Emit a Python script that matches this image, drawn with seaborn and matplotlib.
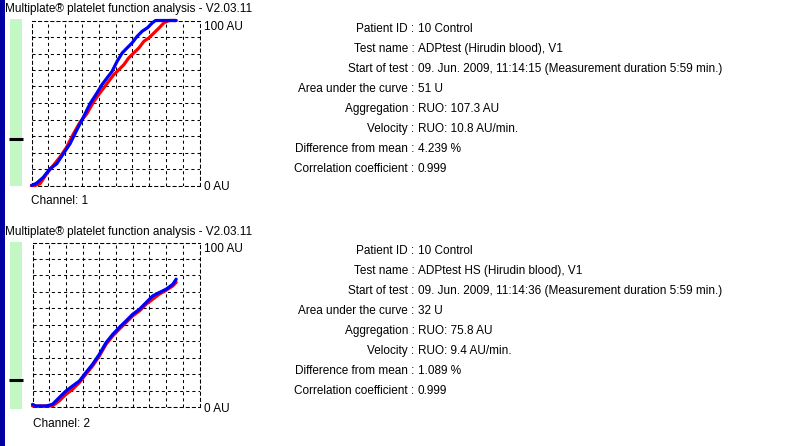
import numpy as np
import pandas as pd
import matplotlib
matplotlib.use("Agg")
import matplotlib.pyplot as plt
from matplotlib.patches import Rectangle
import seaborn as sns

# ---- aggregation curves (time in min, aggregation in AU) ----
ch1_blue_t = [0, 0.21, 0.49, 0.76, 1.04, 1.31, 1.59, 1.86, 2.15, 2.43, 2.70, 2.91,
              3.12, 3.33, 3.54, 3.75, 3.95, 4.16, 4.37, 4.58, 4.79, 5.00, 5.13, 5.98]
ch1_blue_au = [0, 1.4, 5.0, 10.1, 13.1, 19.1, 25.2, 33.2, 41.5, 49.8, 55.9, 61.0,
               65.1, 69.1, 75.2, 80.3, 83.3, 86.4, 90.4, 93.5, 95.5, 98.6, 100, 100]
ch1_red_t = [0, 0.14, 0.35, 0.62, 0.90, 1.17, 1.45, 1.73, 2.00, 2.29, 2.56, 2.77,
             2.98, 3.19, 3.40, 3.61, 3.82, 4.02, 4.23, 4.44, 4.65, 4.86, 5.07, 5.28,
             5.48, 5.69, 5.98]
ch1_red_au = [0, 0, 1, 7, 12.1, 17.1, 23.1, 31.2, 38.2, 43.5, 50.5, 54.9,
              59.0, 63.1, 67.1, 70.1, 73.2, 77.3, 80.3, 83.3, 87.4, 89.5, 92.5, 95.5,
              98.6, 100, 100]

ch2_blue_t = [0, 0.14, 0.56, 0.83, 1.11, 1.39, 1.67, 1.95, 2.22, 2.50, 2.78, 3.06,
              3.34, 3.61, 3.89, 4.17, 4.45, 4.73, 5.00, 5.28, 5.56, 5.84, 5.98]
ch2_blue_au = [1.6, 0.6, 0.6, 1.6, 5.7, 9.7, 12.8, 15.8, 20.9, 26.0, 32.0, 39.1,
               44.2, 48.3, 52.3, 56.4, 59.4, 63.5, 67.5, 69.6, 71.6, 74.6, 77.7]
ch2_red_t = [0, 0.83, 1.11, 1.39, 1.67, 1.95, 2.22, 2.50, 2.78, 3.06, 3.34, 3.61,
             3.89, 4.17, 4.45, 4.73, 5.00, 5.28, 5.56, 5.84, 5.98]
ch2_red_au = [0.6, 0.6, 3.7, 7.7, 10.8, 14.8, 19.9, 24.9, 31.0, 38.1, 43.2, 47.3,
              51.3, 55.4, 58.4, 62.5, 65.5, 68.6, 71.0, 73.6, 75.8]

# ---- report fields ----
field_names = ["Patient ID", "Test name", "Start of test", "Area under the curve",
               "Aggregation", "Velocity", "Difference from mean",
               "Correlation coefficient"]
ch1_values = ["10 Control", "ADPtest (Hirudin blood), V1",
              "09. Jun. 2009, 11:14:15 (Measurement duration 5:59 min.)",
              "51 U", "RUO: 107.3 AU", "RUO: 10.8 AU/min.", "4.239 %", "0.999"]
ch2_values = ["10 Control", "ADPtest HS (Hirudin blood), V1",
              "09. Jun. 2009, 11:14:36 (Measurement duration 5:59 min.)",
              "32 U", "RUO: 75.8 AU", "RUO: 9.4 AU/min.", "1.089 %", "0.999"]
title_text = "Multiplate\u00ae platelet function analysis - V2.03.11"
channel_labels = ["Channel: 1", "Channel: 2"]
scale_labels = ["100 AU", "0 AU"]

W, H = 792, 446
sns.set_style("white")
plt.rcParams["font.family"] = ["Liberation Sans", "DejaVu Sans"]
plt.rcParams["lines.scale_dashes"] = False
FS = 8.5
TEXT_DY = 1.8  # vertical nudge so glyphs sit on the same rows as the layout grid

fig = plt.figure(figsize=(W / 100, H / 100), dpi=100)
fig.patch.set_facecolor("white")


def fx(x):
    return x / W


def fy(y):
    return 1 - y / H


def ftext(x, y, s, **kw):
    kw.setdefault("fontsize", FS)
    kw.setdefault("va", "center")
    kw.setdefault("color", "black")
    fig.text(fx(x), fy(y + TEXT_DY), s, **kw)


# navy window edge
fig.add_artist(Rectangle((0, 0), fx(5), 1, transform=fig.transFigure,
                         color="#0000A0", lw=0))

panels = [
    dict(top=20.5, bot=185.5, left=31.5, right=199.5, title_y=7, marker_y=139,
         bar_top=19.5, bar_bot=186.5, chan_y=199, chan_x=31,
         blue=(ch1_blue_t, ch1_blue_au), red=(ch1_red_t, ch1_red_au),
         values=ch1_values, text_y0=27, label=channel_labels[0]),
    dict(top=242.5, bot=407, left=32.5, right=199.5, title_y=230, marker_y=380,
         bar_top=242, bar_bot=408.5, chan_y=422, chan_x=33,
         blue=(ch2_blue_t, ch2_blue_au), red=(ch2_red_t, ch2_red_au),
         values=ch2_values, text_y0=249, label=channel_labels[1]),
]

T_MAX = 6.95
dash = (0, (2.2, 2.2))

for p in panels:
    # title
    ftext(5, p["title_y"], title_text, ha="left")

    # green level bar with black marker
    fig.add_artist(Rectangle((fx(10), fy(p["bar_bot"])), fx(11.5),
                             (p["bar_bot"] - p["bar_top"]) / H,
                             transform=fig.transFigure, color="#C3F7C3", lw=0))
    fig.add_artist(plt.Line2D([fx(8.5), fx(22.5)], [fy(p["marker_y"])] * 2,
                              transform=fig.transFigure, color="black", lw=2.2,
                              solid_capstyle="butt"))

    ax = fig.add_axes([fx(p["left"]), fy(p["bot"]),
                       (p["right"] - p["left"]) / W, (p["bot"] - p["top"]) / H])
    ax.set_facecolor("white")
    df_red = pd.DataFrame({"t": p["red"][0], "au": p["red"][1]})
    df_blue = pd.DataFrame({"t": p["blue"][0], "au": p["blue"][1]})
    sns.lineplot(data=df_red, x="t", y="au", ax=ax, color="#FF0000", lw=2.3,
                 estimator=None, sort=False, zorder=3)
    sns.lineplot(data=df_blue, x="t", y="au", ax=ax, color="#0000FF", lw=2.3,
                 estimator=None, sort=False, zorder=4)
    for ln in ax.get_lines():
        ln.set_clip_on(False)
    ax.set_xlim(0, T_MAX)
    ax.set_ylim(0, 100)
    ax.set_xticks(np.linspace(0, T_MAX, 11))
    ax.set_yticks(np.arange(0, 101, 10))
    ax.tick_params(length=0, labelbottom=False, labelleft=False)
    ax.set_xlabel("")
    ax.set_ylabel("")
    ax.grid(True, color="black", lw=0.75, ls=dash)
    ax.set_axisbelow(True)
    for s in ax.spines.values():
        s.set_visible(True)
        s.set_color("black")
        s.set_linewidth(0.75)
        s.set_linestyle(dash)
        s.set_zorder(1)

    # scale labels
    ftext(204, p["top"] + 5, scale_labels[0], ha="left")
    ftext(204, p["bot"], scale_labels[1], ha="left")
    # channel label
    ftext(p["chan_x"], p["chan_y"], p["label"], ha="left")

    # report block
    for i, (name, val) in enumerate(zip(field_names, p["values"])):
        y = p["text_y0"] + 20 * i
        ftext(414.5, y, name + " :", ha="right")
        ftext(418, y, val, ha="left")

fig.savefig("out.png", dpi=100)
